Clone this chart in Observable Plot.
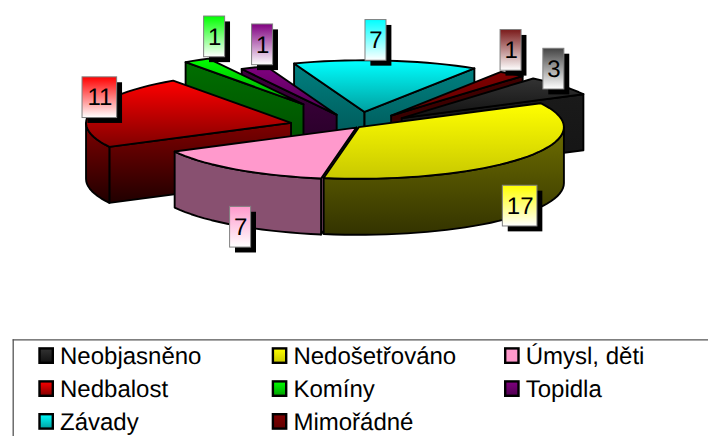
<!DOCTYPE html>
<html>
<head>
<meta charset="utf-8">
<script src="https://cdn.jsdelivr.net/npm/d3@7"></script>
<script src="https://cdn.jsdelivr.net/npm/@observablehq/plot@0.6"></script>
<style>html,body{margin:0;padding:0;background:#fff;overflow:hidden}svg{display:block;max-width:none;text-rendering:geometricPrecision}</style>
</head>
<body>
<script>
// Data
const categories = ["Neobjasněno","Nedošetřováno","Úmysl, děti","Nedbalost","Komíny","Topidla","Závady","Mimořádné"];
const values = [3,17,7,11,1,1,7,1];

// Styling
const topFrom  = ["#333333","#ffff00","#ff99cc","#ff0000","#00ff00","#800080","#00ffff","#800000"];
const topTo    = ["#111111","#c8c800","#ff99cc","#800000","#00a000","#500050","#00a0a0","#600000"];
const wallFrom = ["#1a1a1a","#6e6e00","#885070","#800000","#006f00","#400040","#008080","#400000"];
const wallTo   = ["#141414","#333300","#885070","#200000","#004a00","#200020","#004a4a","#300000"];

// Layout of the exploded 3-D pie
const W = 708, H = 436;
const cx = 357.6, cy = 126.5, R = 205, tilt = 0.252, depth = 56, startAngle = -50.1;
const explode = [56,1,3,69,105,53,60,56];
const paintOrder = [6,7,0,5,4,3,2,1];
const labelDx = [-7.5,-4.3,5.2,8,17.8,8.8,-10.5,-1];
const labelDy = [-16.6,48.5,57.9,-13,-23.4,-22.7,-20.2,-23.5];
const legendColX = [38.3,271.7,504];
const legendRowY = [355.6,388.6,421.4];

const total = d3.sum(values);
const rad = a => a * Math.PI / 180;
let run = startAngle;
const slices = values.map((v,i) => {
  const a0 = run, a1 = run + v / total * 360; run = a1;
  const m = (a0 + a1) / 2;
  const ax = cx + explode[i] * Math.cos(rad(m));
  const ay = cy + explode[i] * tilt * Math.sin(rad(m));
  const at = (a, dz = 0) => [ax + R * Math.cos(rad(a)), ay + R * tilt * Math.sin(rad(a)) + dz];
  return {i, a0, a1, m, ax, ay, at};
});
const arc = (s, from, to, dz = 0) => {
  const n = Math.max(2, Math.ceil((to - from) / 3));
  return d3.range(n + 1).map(k => s.at(from + (to - from) * k / n, dz));
};

// gradients
function defsMark() {
  const NS = "http://www.w3.org/2000/svg";
  const defs = document.createElementNS(NS, "defs");
  const add = (id, c0, c1) => {
    const g = document.createElementNS(NS, "linearGradient");
    g.setAttribute("id", id); g.setAttribute("x1", 0); g.setAttribute("x2", 0); g.setAttribute("y1", 0); g.setAttribute("y2", 1);
    [[0,c0],[1,c1]].forEach(([o,c]) => {
      const st = document.createElementNS(NS, "stop");
      st.setAttribute("offset", o); st.setAttribute("stop-color", c); g.appendChild(st);
    });
    defs.appendChild(g);
  };
  categories.forEach((_, i) => {
    add(`top${i}`, topFrom[i], topTo[i]);
    add(`wall${i}`, wallFrom[i], wallTo[i]);
    add(`label${i}`, topFrom[i] === "#800000" ? "#7a1a1a" : topFrom[i] === "#333333" ? "#444444" : topFrom[i], "#ffffff");
  });
  return defs;
}

const edge = {stroke: "#000", strokeWidth: 1.9, strokeLinejoin: "round"};
const poly = (pts, fill) => Plot.line([...pts, pts[0]], {x: d => d[0], y: d => d[1], fill, ...edge});

const pieMarks = paintOrder.flatMap(i => {
  const s = slices[i], out = [];
  const apexT = [s.ax, s.ay], apexB = [s.ax, s.ay + depth];
  const wall = `url(#wall${i})`;
  if (Math.cos(rad(s.a0)) < 0) out.push(poly([apexT, s.at(s.a0), s.at(s.a0, depth), apexB], wall));
  if (Math.cos(rad(s.a1)) > 0) out.push(poly([apexT, s.at(s.a1), s.at(s.a1, depth), apexB], wall));
  // outer wall: the part of the rim that faces the viewer
  for (const base of [0, 360, -360]) {
    const from = Math.max(s.a0, base), to = Math.min(s.a1, base + 180);
    if (to > from) out.push(poly([...arc(s, from, to), ...arc(s, from, to, depth).reverse()], wall));
  }
  out.push(poly([apexT, ...arc(s, s.a0, s.a1)], `url(#top${i})`));
  return out;
});

// value labels
const labelMarks = slices.flatMap(s => {
  const [px, py] = s.at(s.m);
  const t = String(values[s.i]);
  const w = t.length > 1 ? 34.6 : 21, h = 40.7;
  const c = {x: px + labelDx[s.i], y: py + labelDy[s.i]};
  const box = [c];
  return [
    Plot.rect(box, {x1: d => d.x - w/2 + 5.4, x2: d => d.x + w/2 + 5.4, y1: d => d.y - h/2 + 5.4, y2: d => d.y + h/2 + 5.4, fill: "#000"}),
    Plot.rect(box, {x1: d => d.x - w/2, x2: d => d.x + w/2, y1: d => d.y - h/2, y2: d => d.y + h/2, fill: `url(#label${s.i})`, stroke: "#808080", strokeWidth: 1}),
    Plot.text(box, {x: "x", y: "y", text: () => t, fontSize: 24, fontFamily: "Liberation Sans, Arial, sans-serif", fill: "#000"})
  ];
});

// legend
const legendData = categories.map((name, i) => ({
  name, i,
  x: legendColX[i % 3],
  y: legendRowY[Math.floor(i / 3)]
}));
const legendMarks = [
  Plot.ruleX([12.7], {y1: 339.3, y2: H, stroke: "#555", strokeWidth: 1.3}),
  Plot.ruleY([339.3], {x1: 12.7, x2: W, stroke: "#555", strokeWidth: 1.3}),
  ...legendData.map(d => Plot.rect([d], {
    x1: v => v.x + 1.2, x2: v => v.x + 14.5, y1: v => v.y - 7.2, y2: v => v.y + 7.2,
    fill: `url(#top${d.i})`, stroke: "#000", strokeWidth: 2.4
  })),
  Plot.text(legendData, {x: d => d.x + 21.2, y: d => d.y, text: "name", textAnchor: "start",
    fontSize: 24, fontFamily: "Liberation Sans, Arial, sans-serif", fill: "#000"})
];

const chart = Plot.plot({
  width: W, height: H,
  margin: 0,
  style: {background: "#fff", overflow: "hidden"},
  x: {domain: [0, W], range: [0, W], axis: null},
  y: {domain: [0, H], range: [0, H], axis: null},
  marks: [defsMark, ...pieMarks, ...labelMarks, ...legendMarks]
});
document.body.appendChild(chart);
</script>
</body>
</html>
